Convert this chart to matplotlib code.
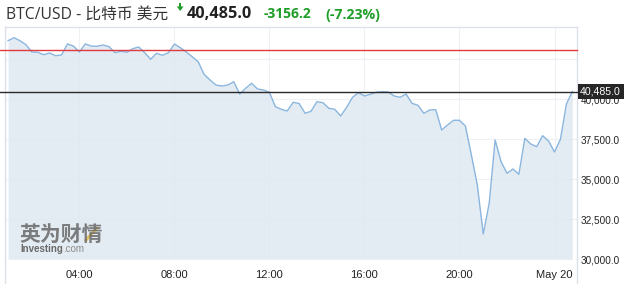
import matplotlib
matplotlib.use('Agg')
import matplotlib.pyplot as plt
from matplotlib.lines import Line2D
from matplotlib.patches import Polygon
import pandas as pd

# ---- data ----
start_time = '2021-05-19 01:00'
n_points = 96
prices = [43663, 43850, 43663, 43413, 42956, 42938, 42788, 42894, 42725, 42769,
          43456, 43331, 42956, 43456, 43331, 43313, 43394, 43288, 42913, 43000,
          42938, 43163, 43269, 42913, 42500, 42875, 42750, 42913, 43456, 43225,
          42956, 42663, 42350, 41563, 41206, 40894, 40831, 40894, 41100, 40331,
          40688, 41000, 40644, 40581, 40438, 39538, 39375, 39269, 39813, 39738,
          39125, 39250, 39850, 39788, 39438, 39375, 38956, 39500, 40125, 40413,
          40206, 40313, 40438, 40475, 40456, 40206, 40125, 40331, 39750, 39625,
          39125, 39331, 39350, 38081, 38394, 38688, 38688, 38331, 36519, 34644,
          31581, 33500, 37456, 36100, 35375, 35644, 35313, 37563, 37206, 37038,
          37725, 37394, 36706, 37500, 39706, 40485]
last_price = 40485.0
ref_line = 43062
change = '-3156.2'
change_pct = '(-7.23%)'
title = 'BTC/USD - 比特币 美元'
x_ticks = ['2021-05-19 04:00', '2021-05-19 08:00', '2021-05-19 12:00',
           '2021-05-19 16:00', '2021-05-19 20:00', '2021-05-20 00:00']
x_labels = ['04:00', '08:00', '12:00', '16:00', '20:00', 'May 20']
y_ticks = [30000, 32500, 35000, 37500, 40000, 42500]
y_labels = ['30,000.0', '32,500.0', '35,000.0', '37,500.0', '40,000.0', '']

times = pd.date_range(start_time, periods=n_points, freq='15min')

W, H = 628, 284
fig = plt.figure(figsize=(W / 100, H / 100), dpi=100)
fig.patch.set_facecolor('white')

ax = fig.add_axes([5.3 / W, (H - 259.3) / H, 571.4 / W, 232.3 / H])
ax.set_facecolor('white')

ax.fill_between(times, prices, 30000, color='#dce6f0', alpha=0.75, lw=0, zorder=2)
ax.plot(times, prices, color='#8ab6de', lw=1.0, zorder=3)

ax.set_ylim(30000, 44519)
ax.set_xlim(pd.Timestamp('2021-05-19 00:53'), pd.Timestamp('2021-05-20 00:56'))

ax.set_xticks(pd.to_datetime(x_ticks))
ax.set_xticklabels(x_labels)
ax.yaxis.tick_right()
ax.set_yticks(y_ticks)
ax.set_yticklabels(y_labels)
ax.tick_params(axis='x', length=0, pad=8, labelsize=8, labelcolor='#222222')
ax.tick_params(axis='y', length=0, pad=3, labelsize=7.2, labelcolor='#222222')
for lab in ax.get_xticklabels() + ax.get_yticklabels():
    lab.set_fontfamily('Liberation Sans')

ax.grid(True, color='#edf0f4', lw=0.8, zorder=1)
ax.set_axisbelow(True)

for s in ['top', 'left', 'right']:
    ax.spines[s].set_color('#dde1e7')
    ax.spines[s].set_linewidth(1.0)
ax.spines['bottom'].set_visible(False)

# frame lines extended down to figure bottom
for xp in (5.3, 576.7):
    fig.add_artist(Line2D([xp / W, xp / W], [0, (H - 259.3) / H], color='#dde1e7', lw=1.0,
                          transform=fig.transFigure))

# reference lines
ax.axhline(ref_line, xmin=-0.01, xmax=1.0, color='#e0393e', lw=1.0, zorder=4, clip_on=False)
ax.axhline(last_price, xmin=-0.01, xmax=1.0, color='#2a2a2a', lw=1.0, zorder=4, clip_on=False)

# last price box
ax.annotate(f'{last_price:,.1f}', xy=(1.0, last_price), xycoords=('axes fraction', 'data'),
            xytext=(2.5, 0), textcoords='offset points', ha='left', va='center',
            fontsize=7.6, color='white', family='Liberation Sans', zorder=6,
            bbox=dict(boxstyle='square,pad=0.25', fc='#262626', ec='none'),
            annotation_clip=False)

# header
def fy(y):
    return (H - y) / H

fig.text(6 / W, fy(18.5), title, fontsize=11.3, color='#333333', va='baseline', ha='left',
         family=['Open Sans', 'Noto Sans CJK SC'])
fig.add_artist(Polygon([[176.8, H - 6.5], [183.6, H - 6.5], [180.2, H - 11]], closed=True,
                       fc='#1e9e28', ec='none', transform=None))
fig.add_artist(Polygon([[179.3, H - 2.5], [181.1, H - 2.5], [181.1, H - 6.7], [179.3, H - 6.7]],
                       closed=True, fc='#1e9e28', ec='none', transform=None))
fig.text(187 / W, fy(18.5), f'{last_price:,.1f}', fontsize=11.7, color='#222222', weight='bold',
         va='baseline', ha='left', family='Open Sans')
fig.text(264 / W, fy(18.5), change, fontsize=10, color='#1e9e28', weight='bold',
         va='baseline', ha='left', family='Open Sans')
fig.text(325.7 / W, fy(18.5), change_pct, fontsize=10.2, color='#1e9e28', weight='bold',
         va='baseline', ha='left', family='Open Sans')

# watermark
fig.text(19 / W, fy(241), '英为财情', fontsize=15, color='#6f6f6f', weight='black',
         va='baseline', ha='left', family='Noto Sans CJK SC', alpha=0.9)
fig.add_artist(Line2D([86 / W, 96.5 / W], [fy(240), fy(228.5)], color='#e5bd4a', lw=2.2, alpha=0.9))
fig.text(20 / W, fy(252.3), 'Investing', fontsize=7, color='#6a6a6a', weight='bold',
         va='baseline', ha='left', family='Liberation Sans')
fig.text(63 / W, fy(252.3), '.com', fontsize=7, color='#8a8a8a',
         va='baseline', ha='left', family='Liberation Sans')

fig.savefig('out.png', dpi=100)
